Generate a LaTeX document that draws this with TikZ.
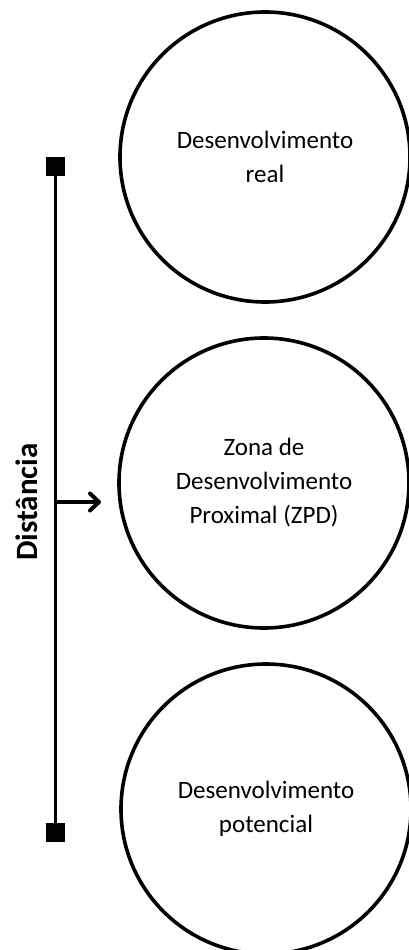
\documentclass[tikz,border=0pt]{standalone}
\usepackage{fontspec}
\setmainfont{Carlito}
\usetikzlibrary{arrows.meta}
\tikzset{
  bubble/.style={circle, draw=black, line width=3.6pt, minimum size=290pt, inner sep=0pt,
    align=center, font=\fontsize{25}{34}\selectfont},
  endsq/.style={rectangle, fill=black, minimum size=19pt, inner sep=0pt},
  axis/.style={line width=3.4pt},
}
\begin{document}
\begin{tikzpicture}[x=1pt,y=-1pt]
\useasboundingbox (0,0) rectangle (408,950);
\node[bubble] (real) at (265,157) {Desenvolvimento\\real};
\node[bubble] (zpd) at (264,483) {Zona de\\Desenvolvimento\\Proximal (ZPD)};
\node[bubble] (pot) at (266,809) {Desenvolvimento\\potencial};
\node[endsq] (top) at (55.5,166.5) {};
\node[endsq] (bot) at (55.5,832.5) {};
\draw[axis] (top) -- (bot);
\coordinate (mid) at (55.5,502);
\coordinate (tip) at (101,502);
\draw[axis, line cap=round, -{Straight Barb[length=9pt,width=17pt,line width=4pt,line cap=round,line join=round]}] (mid) -- (tip);
\node[rotate=90, font=\fontsize{31}{36}\selectfont\bfseries] (dist) at (27,502) {Distância};
\end{tikzpicture}
\end{document}
